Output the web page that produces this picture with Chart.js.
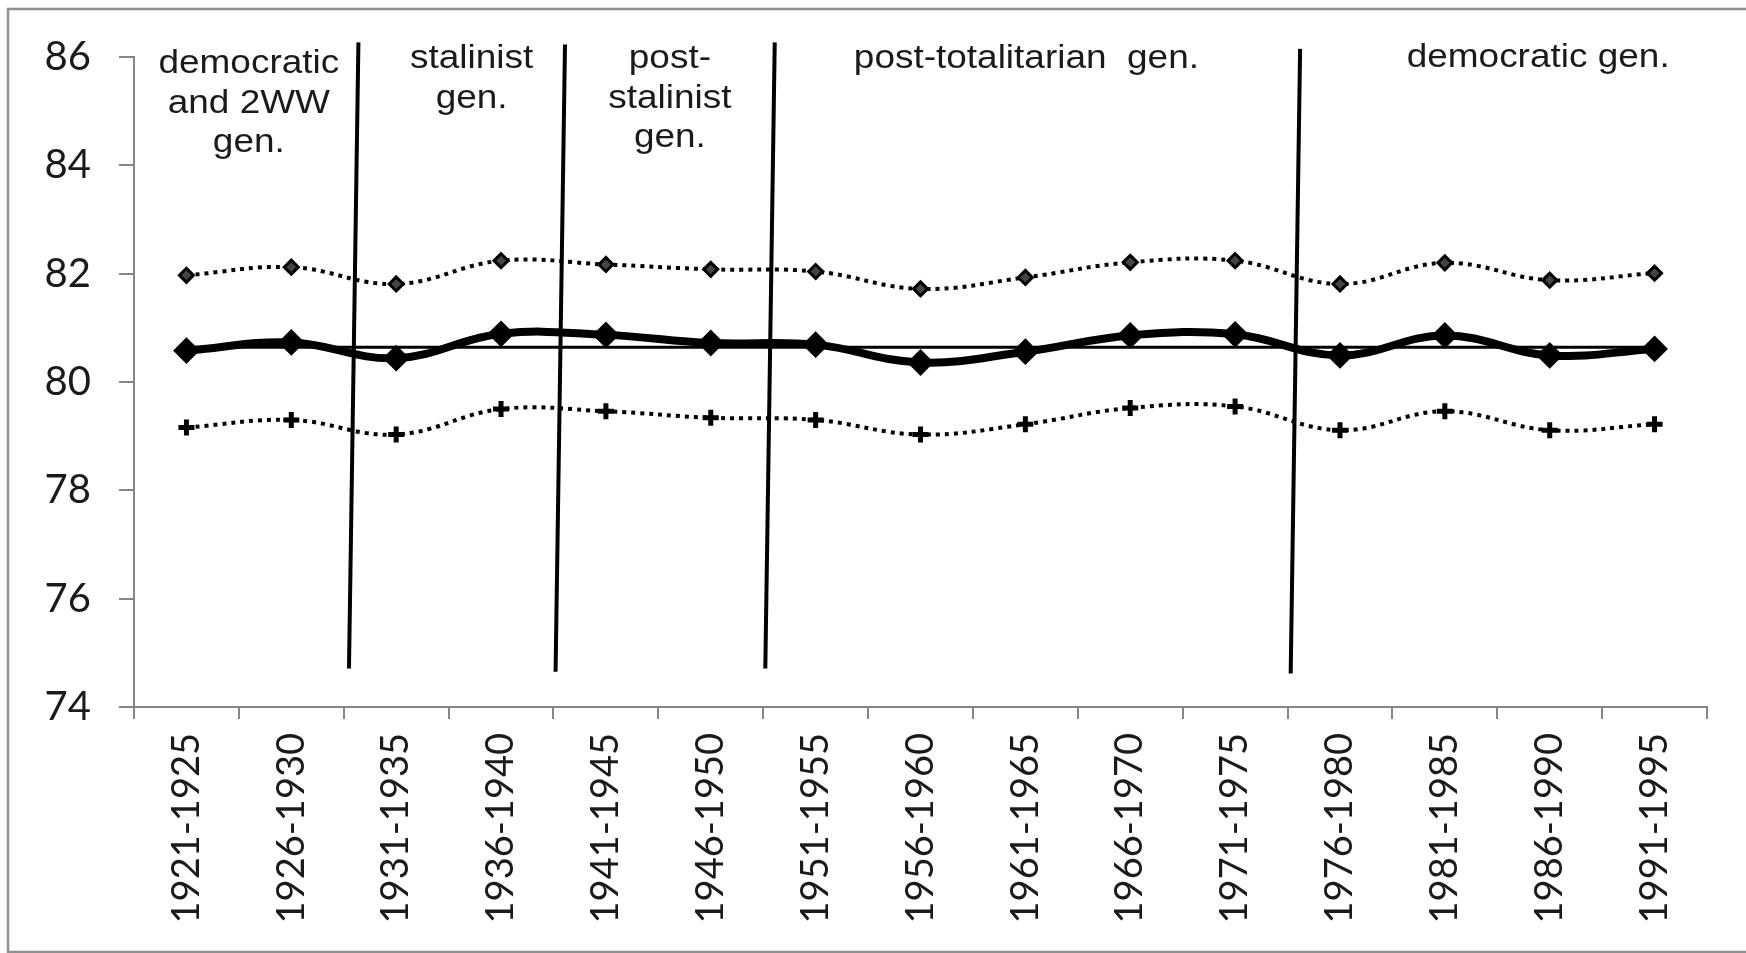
<!DOCTYPE html>
<html lang="en">
<head>
  <meta charset="UTF-8">
  <title>Generations</title>
  <script src="https://cdn.jsdelivr.net/npm/chart.js"></script>
  <style>
    html, body { margin: 0; padding: 0; background: #fff; }
    #wrap { position: relative; width: 1746px; height: 953px; }
  </style>
</head>
<body>
  <div id="wrap"><canvas id="genChart"></canvas></div>

  <script>
    // Birth cohorts (x axis)
    const cohorts = ['1921-1925', '1926-1930', '1931-1935', '1936-1940', '1941-1945',
      '1946-1950', '1951-1955', '1956-1960', '1961-1965', '1966-1970',
      '1971-1975', '1976-1980', '1981-1985', '1986-1990', '1991-1995'];

    // Series
    const upperBound = [81.97, 82.12, 81.81, 82.24, 82.17, 82.08, 82.04, 81.72, 81.93, 82.21,
      82.24, 81.81, 82.20, 81.88, 82.01];
    const cohortMean = [80.58, 80.73, 80.44, 80.89, 80.87, 80.72, 80.69, 80.36, 80.56, 80.86,
      80.88, 80.49, 80.86, 80.49, 80.61];
    const lowerBound = [79.16, 79.30, 79.03, 79.50, 79.46, 79.34, 79.30, 79.03, 79.22, 79.52,
      79.55, 79.11, 79.46, 79.11, 79.22];
    const overallMean = [80.64, 80.64, 80.64, 80.64, 80.64, 80.64, 80.64, 80.64, 80.64, 80.64,
      80.64, 80.64, 80.64, 80.64, 80.64];

    const yTicks = [74, 76, 78, 80, 82, 84, 86];

    // Generation borders (x in cohort units, y in axis units)
    const borderTopX = [1.64, 3.61, 5.61, 10.62];
    const borderTopY = [86.27, 86.23, 86.27, 86.15];
    const borderBottomX = [1.55, 3.52, 5.52, 10.53];
    const borderBottomY = [74.71, 74.65, 74.71, 74.62];

    // Generation names
    const genNames = [
      ['democratic', 'and 2WW', 'gen.'],
      ['stalinist', 'gen.'],
      ['post-', 'stalinist', 'gen.'],
      ['post-totalitarian  gen.'],
      ['democratic gen.']
    ];
    const genX = [0.595, 2.72, 4.61, 8.01, 12.89];
    const genY = [85.70, 85.79, 85.79, 85.79, 85.82];

    // white page + grey frame
    const frame = {
      id: 'frame',
      beforeDraw(chart) {
        const ctx = chart.ctx;
        ctx.save();
        ctx.fillStyle = '#fff';
        ctx.fillRect(0, 0, chart.width, chart.height);
        ctx.strokeStyle = '#8f8f8f';
        ctx.lineWidth = 2.5;
        ctx.strokeRect(8, 9, chart.width + 20, chart.height - 10);
        ctx.restore();
      }
    };

    // generation names on top of the plot
    const genLabels = {
      id: 'genLabels',
      afterDatasetsDraw(chart) {
        const { ctx, scales } = chart;
        ctx.save();
        ctx.font = '33px "Liberation Sans", Arial, sans-serif';
        ctx.fillStyle = '#1a1a1a';
        ctx.textAlign = 'center';
        ctx.textBaseline = 'alphabetic';
        genNames.forEach((lines, i) => {
          const px = scales.xl.getPixelForValue(genX[i]);
          const py = scales.y.getPixelForValue(genY[i]);
          lines.forEach((t, j) => {
            ctx.save();
            ctx.translate(px, py + j * 39.5);
            ctx.scale(1.12, 1);
            ctx.fillText(t, 0, 0);
            ctx.restore();
          });
        });
        ctx.restore();
      }
    };

    const borderSets = borderTopX.map((x, i) => ({
      data: [{ x: x, y: borderTopY[i] }, { x: borderBottomX[i], y: borderBottomY[i] }],
      xAxisID: 'xl',
      borderColor: '#000',
      borderWidth: 4,
      pointRadius: 0,
      tension: 0,
      clip: false,
      order: 0
    }));

    function draw() {
      new Chart(document.getElementById('genChart'), {
        type: 'line',
        data: {
          labels: cohorts,
          datasets: [
            {
              data: cohortMean,
              borderColor: '#000',
              borderWidth: 8,
              tension: 0.4,
              pointStyle: 'rectRot',
              pointRadius: 12,
              pointBackgroundColor: '#000',
              pointBorderColor: '#000',
              pointBorderWidth: 2,
              order: 1
            },
            {
              data: overallMean,
              borderColor: '#000',
              borderWidth: 3,
              pointRadius: 0,
              order: 2
            },
            {
              data: upperBound,
              borderColor: '#000',
              borderWidth: 4,
              borderDash: [4, 5],
              tension: 0.4,
              pointStyle: 'rectRot',
              pointRadius: 7,
              pointBackgroundColor: '#444',
              pointBorderColor: '#000',
              pointBorderWidth: 3,
              order: 3
            },
            {
              data: lowerBound,
              borderColor: '#000',
              borderWidth: 4,
              borderDash: [4, 5],
              tension: 0.4,
              pointStyle: 'cross',
              pointRadius: 8,
              pointBorderColor: '#000',
              pointBorderWidth: 5,
              order: 3
            },
            ...borderSets
          ]
        },
        options: {
          responsive: false,
          animation: false,
          layout: { padding: { top: 57, right: 39, left: 0, bottom: 0 } },
          plugins: { legend: { display: false }, tooltip: { enabled: false } },
          scales: {
            x: {
              type: 'category',
              offset: true,
              grid: { offset: true, drawOnChartArea: false, tickLength: 12, color: '#868686', lineWidth: 2 },
              border: { color: '#868686', width: 2 },
              ticks: {
                autoSkip: false,
                minRotation: 90,
                maxRotation: 90,
                padding: 14,
                color: '#1a1a1a',
                font: { family: 'Lato', size: 38 }
              },
              afterFit: (s) => { s.height = 246; }
            },
            xl: {
              type: 'linear',
              display: false,
              min: -0.5,
              max: 14.5
            },
            y: {
              min: 74,
              max: 86,
              afterBuildTicks: (s) => { s.ticks = yTicks.map(v => ({ value: v })); },
              grid: { drawOnChartArea: false, tickLength: 15, color: '#868686', lineWidth: 2 },
              border: { color: '#868686', width: 2 },
              ticks: {
                padding: 28,
                color: '#1a1a1a',
                font: { family: 'Lato', size: 40 }
              },
              afterFit: (s) => { s.width = 134; }
            }
          }
        },
        plugins: [frame, genLabels]
      });
    }

    const cv = document.getElementById('genChart');
    cv.width = 1746;
    cv.height = 953;
    document.fonts.load('38px Lato').then(draw, draw);
  </script>
</body>
</html>
